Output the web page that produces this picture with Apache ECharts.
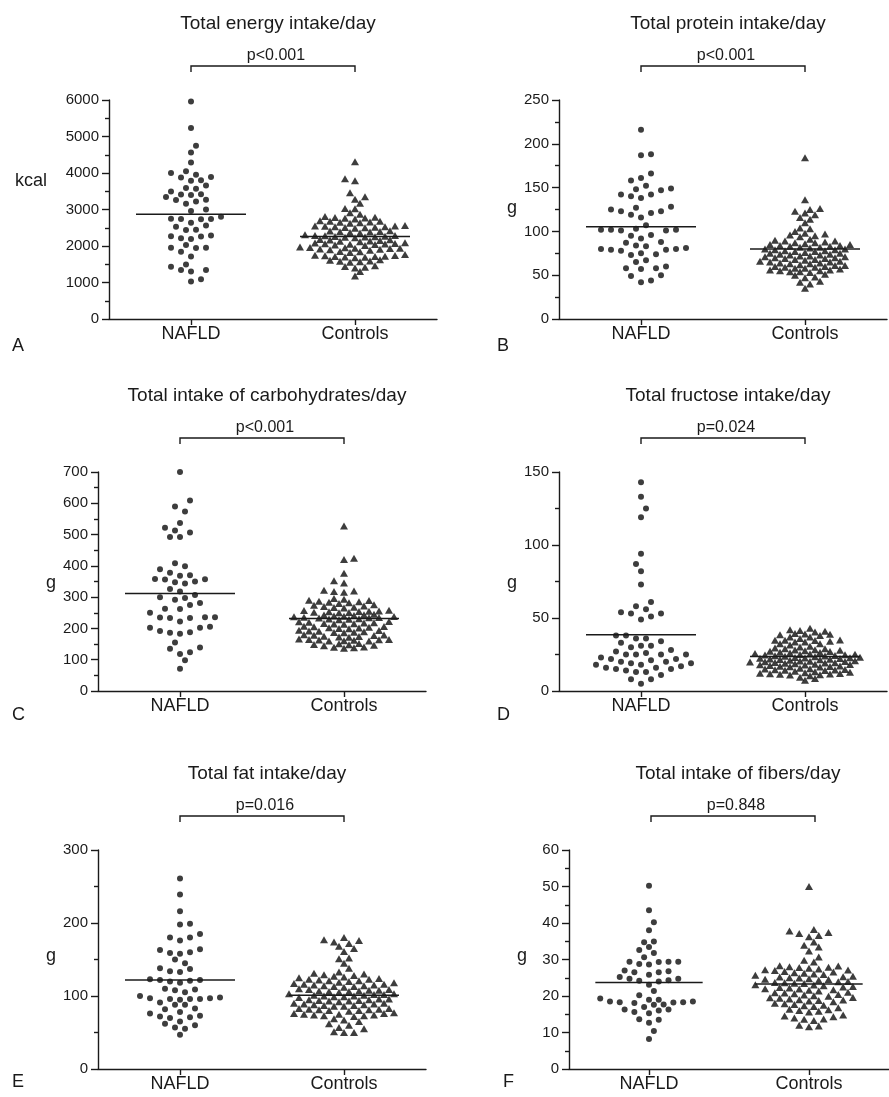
<!DOCTYPE html>
<html>
<head>
<meta charset="utf-8">
<script src="https://cdn.jsdelivr.net/npm/echarts@6/dist/echarts.min.js"></script>
<style>
html, body { margin: 0; background: #fff; }
#main { width: 889px; height: 1097px; }
</style>
</head>
<body>
<div id="main"></div>
<script>
// groups on the x axis
var categories = ['NAFLD', 'Controls'];

var titles = ['Total energy intake/day', 'Total protein intake/day', 'Total intake of carbohydrates/day',
              'Total fructose intake/day', 'Total fat intake/day', 'Total intake of fibers/day'];
var pValues = ['p<0.001', 'p<0.001', 'p<0.001', 'p=0.024', 'p=0.016', 'p=0.848'];
var units = ['kcal', 'g', 'g', 'g', 'g', 'g'];
var letters = ['A', 'B', 'C', 'D', 'E', 'F'];
var yMax = [6000, 250, 700, 150, 300, 60];
var yStep = [1000, 50, 100, 50, 100, 10];

// mean lines [NAFLD, Controls]
var means = [[2872, 2262], [105.2, 79.8], [311.7, 232], [38.6, 23.7], [121.9, 100.9], [23.7, 23.3]];

// A - energy (kcal)
var nafldEnergy = [5960, 5230, 4750, 4560, 4290, 4050, 4000, 3950, 3890, 3880, 3800, 3790, 3660, 3590, 3570,
  3490, 3420, 3410, 3400, 3340, 3270, 3260, 3220, 3160, 3000, 2960, 2800, 2740, 2745, 2735, 2740, 2640, 2560,
  2530, 2440, 2445, 2290, 2270, 2260, 2210, 2190, 2030, 1950, 1955, 1945, 1840, 1710, 1490, 1430, 1340, 1345,
  1300, 1090, 1030];
var ctrlEnergy = [4310, 3840, 3790, 3460, 3350, 3280, 3170, 3030, 3020, 2910, 2870, 2810, 2790, 2780, 2765,
  2760, 2740, 2695, 2680, 2675, 2660, 2650, 2640, 2625, 2565, 2550, 2545, 2540, 2530, 2525, 2515, 2510, 2500,
  2485, 2420, 2410, 2400, 2390, 2385, 2370, 2355, 2305, 2290, 2285, 2280, 2270, 2260, 2255, 2250, 2240, 2225,
  2180, 2170, 2165, 2150, 2140, 2130, 2115, 2090, 2085, 2070, 2060, 2055, 2050, 2040, 2030, 2015, 1975, 1960,
  1950, 1940, 1935, 1930, 1920, 1910, 1900, 1885, 1850, 1840, 1825, 1765, 1750, 1740, 1735, 1720, 1715, 1710,
  1700, 1690, 1675, 1620, 1610, 1590, 1580, 1570, 1555, 1460, 1440, 1420, 1400, 1300, 1180];

// B - protein (g)
var nafldProtein = [216, 188, 187, 166, 161, 158, 152, 149, 148, 147, 142, 142, 140, 138, 128, 127, 125, 123,
  123, 121, 119, 116, 107, 103, 102, 102, 102, 101, 101, 96, 95, 92, 88, 87, 84, 83, 81, 80, 80, 79, 79, 78,
  75, 74, 73, 67, 65, 60, 58, 58, 57, 50, 49, 44, 42];
var ctrlProtein = [184, 136, 126, 125, 123, 121, 119, 116, 114, 110, 104, 103, 100, 98, 97, 96, 95, 94,
  91, 90, 89, 89, 88, 87, 87, 86, 85, 85, 84, 84, 83, 83, 82, 82, 81, 80, 80, 79, 79, 78, 78, 77, 77,
  76, 75, 75, 74, 74, 73, 73, 72, 72, 71, 71, 70, 70, 69, 69, 68, 68, 67, 66, 66, 65, 65, 64, 64, 63, 63, 62,
  61, 61, 60, 60, 59, 59, 58, 58, 57, 56, 56, 55, 55, 54, 54, 53, 51, 50, 48, 47, 43, 42, 40, 35];

// C - carbohydrates (g)
var nafldCarb = [700, 609, 590, 574, 537, 522, 513, 507, 492, 492, 408, 399, 389, 378, 370, 368, 358, 357, 356,
  350, 348, 344, 326, 318, 307, 300, 297, 292, 281, 275, 263, 262, 250, 236, 236, 235, 233, 233, 222, 205, 202,
  202, 192, 188, 186, 183, 155, 139, 135, 124, 118, 98, 71];
var ctrlCarb = [527, 424, 420, 376, 352, 345, 322, 320, 318, 316, 296, 293, 290, 289, 287, 285, 284, 282, 280,
  276, 274, 272, 270, 268, 267, 265, 258, 257, 256, 255, 254, 253, 252, 251, 250, 245, 244, 243, 241, 240, 239,
  238, 237, 236, 235, 234, 233, 231, 230, 229, 228, 222, 221, 220, 218, 217, 216, 215, 214, 213, 207, 206, 205,
  204, 202, 201, 200, 199, 194, 193, 192, 191, 189, 188, 187, 186, 180, 179, 178, 177, 175, 174, 173, 172, 166,
  165, 165, 164, 163, 162, 161, 160, 160, 152, 151, 149, 148, 146, 145, 141, 140, 138, 137];

// D - fructose (g)
var nafldFructose = [143, 133, 125, 119, 94, 87, 82, 73, 61, 58, 56, 54, 53, 53, 51, 49, 38, 38, 36, 36, 34, 33,
  31, 31, 30, 28, 27, 26, 25, 25, 25, 25, 23, 22, 22, 21, 20, 20, 19, 19, 18, 18, 17, 16, 16, 15, 15, 14, 13, 13,
  11, 8, 8, 5];
var ctrlFructose = [43, 42, 41.5, 41, 40.4, 39.3, 39, 38.8, 38.6, 38, 37, 37, 36, 35, 34.7, 34.7, 34.6, 34, 33.6,
  33.5, 32.4, 32.4, 31.5, 30.6, 30.1, 29.5, 29, 29, 28.3, 28, 27.9, 27.5, 27.2, 27, 26.6, 26.3, 26, 25.6, 25.4,
  25.2, 25, 24.8, 24.6, 24.4, 24.2, 24, 23.8, 23.4, 23.2, 23, 22.8, 22.6, 22.4, 22.2, 22, 21.8, 21.6, 21.4, 21,
  20.8, 20.6, 20.4, 20.2, 20, 19.8, 19.6, 19.4, 19.2, 19, 18.6, 18.4, 18.2, 18, 17.8, 17.5, 17.2, 17, 16.8, 16.6,
  16.4, 15.6, 15.3, 15, 14.8, 14.6, 14.4, 14.2, 14, 13.6, 13.2, 12.8, 12.5, 12.2, 12, 11.8, 11.6, 11.4, 11.2, 11,
  10.5, 9.5, 8.5, 7.3];

// E - fat (g)
var nafldFat = [261, 239, 216, 199, 198, 185, 180, 180, 176, 164, 163, 160, 159, 158, 150, 145, 138, 137, 134,
  133, 123, 122, 122, 121, 120, 118, 110, 109, 108, 105, 100, 98, 97, 97, 96, 96, 96, 95, 91, 88, 88, 83, 82, 78,
  76, 73, 72, 71, 70, 65, 62, 60, 57, 55, 47];
var ctrlFat = [180, 177, 176, 174, 172, 168, 165, 161, 152, 151, 145, 138, 133, 131, 130, 129, 128, 127, 126, 125,
  124, 123, 123, 122, 121, 121, 120, 119, 118, 117, 116, 116, 115, 115, 114, 114, 113, 113, 112, 110, 109, 109,
  108, 108, 107, 107, 106, 106, 105, 103, 103, 102, 102, 101, 101, 100, 100, 99, 99, 98, 96, 96, 95, 95, 94, 94,
  93, 93, 92, 90, 90, 89, 89, 88, 88, 87, 87, 86, 86, 83, 83, 82, 82, 81, 81, 80, 80, 79, 77, 76, 76, 75, 75, 74,
  74, 73, 73, 72, 69, 67, 65, 62, 60, 57, 55, 51, 50, 50];

// F - fibers (g)
var nafldFiber = [50.2, 43.5, 40.2, 38, 34.9, 34.7, 33.4, 32.6, 31.8, 30.6, 29.4, 29.4, 29.3, 29.4, 28.8, 28.6,
  27, 26.8, 26.5, 26.5, 25.8, 25.2, 24.7, 24.7, 24.3, 24.2, 24, 23.1, 21.4, 20.2, 19.3, 19, 19, 18.5, 18.5, 18.3,
  18.3, 18.2, 18.1, 17.7, 17.6, 17, 16.3, 16.3, 16, 15.6, 15.3, 13.6, 13.5, 12.7, 10.4, 8.2];
var ctrlFiber = [50, 38.2, 37.8, 37.4, 37.1, 36.6, 36.2, 34.8, 33.9, 33.4, 32.3, 30.7, 29.8, 29.3, 28.3, 28.2, 28,
  27.9, 27.8, 27.6, 27.4, 27.2, 27.1, 27, 26.7, 26.6, 26.4, 26.2, 26, 25.9, 25.7, 25.4, 25.3, 25.2, 25, 24.9,
  24.7, 24.6, 24.5, 24.3, 24, 23.9, 23.7, 23.6, 23.5, 23.4, 23.1, 23, 22.8, 22.6, 22.5, 22.3, 22.2, 22, 21.9,
  21.7, 21.6, 21.4, 21, 20.9, 20.8, 20.6, 20.4, 20.3, 20.1, 19.9, 19.6, 19.5, 19.4, 19.2, 19, 18.9, 18.8, 18.6,
  18.4, 18, 17.9, 17.7, 17.5, 17.3, 17.1, 16.8, 16.4, 16.2, 16, 15.8, 15.6, 14.8, 14.5, 14.3, 14, 13.7, 13.6,
  13.3, 12, 11.8, 11.6];

var groups = [
  [nafldEnergy, ctrlEnergy], [nafldProtein, ctrlProtein], [nafldCarb, ctrlCarb],
  [nafldFructose, ctrlFructose], [nafldFat, ctrlFat], [nafldFiber, ctrlFiber]
];

// layout (pixels)
var W = 328, H = 219;
var panelPos = [[109, 100], [559, 100], [98, 472], [559, 472], [98, 850], [569, 850]];
var unitPos = [[31, 181], [512, 208], [51, 583], [512, 583], [51, 956], [522, 956]];
var letterPos = [[12, 346], [497, 346], [12, 715], [497, 715], [12, 1082], [503, 1082]];
var FONT = '"Liberation Sans", Arial, sans-serif';
var INK = '#1a1a1a';
var STEP = 5, SX = 10, LINE_HALF = 55;
// vertical packing of each swarm (px), per panel: [NAFLD, Controls]
var packY = [[9.8, 6.9], [12.5, 6.4], [12, 6.2], [12.9, 5.6], [9, 7.9], [8.9, 9.2]];

// column scatter: 5px grid, staggered rows, each point as near the centre as it fits
function swarm(values, yPx, center, sy) {
  var idx = values.map(function (v, i) { return i; })
    .sort(function (a, b) { return values[a] - values[b]; });
  var placed = [], out = [];
  idx.forEach(function (i, k) {
    var y = values[i] * yPx, sign = k % 2 ? 1 : -1, x = null;
    for (var s = 0; x === null && s < 60; s++) {
      var cands = s === 0 ? [0] : [sign * s * STEP, -sign * s * STEP];
      for (var c = 0; c < cands.length; c++) {
        var cx = cands[c];
        var ok = true;
        for (var q = 0; q < placed.length; q++) {
          var d = Math.abs(placed[q][0] - cx) / SX + Math.abs(placed[q][1] - y) / sy;
          if (d < 1) { ok = false; break; }
        }
        if (ok) { x = cx; break; }
      }
    }
    if (x === null) x = 0;
    placed.push([x, y]);
    out.push([center + x / (W / 2), values[i]]);
  });
  return out;
}

function lineStyle() {
  return { color: INK, width: 1.4 };
}

var grids = [], xAxes = [], yAxes = [], series = [], elements = [];

for (var p = 0; p < 6; p++) {
  var gLeft = panelPos[p][0], gTop = panelPos[p][1];
  grids.push({ left: gLeft, top: gTop, width: W, height: H });
  xAxes.push({
    type: 'value', gridIndex: p, min: -0.5, max: 1.5,
    splitLine: { show: false },
    axisLine: { show: true, onZero: false, lineStyle: lineStyle() },
    axisTick: { show: true, length: 6, lineStyle: lineStyle(), customValues: [0, 1] },
    axisLabel: {
      margin: 6, fontSize: 18, color: INK, fontFamily: FONT, customValues: [0, 1],
      formatter: function (v) { return categories[Math.round(v)]; }
    }
  });
  yAxes.push({
    type: 'value', gridIndex: p, min: 0, max: yMax[p], interval: yStep[p],
    axisLine: { show: true, onZero: false, lineStyle: lineStyle() },
    axisTick: { show: true, length: 7, lineStyle: lineStyle() },
    minorTick: { show: true, splitNumber: 2, length: 4, lineStyle: lineStyle() },
    splitLine: { show: false },
    axisLabel: {
      margin: 10, fontSize: 15, color: INK, fontFamily: FONT,
      formatter: function (v) { return String(v); }
    }
  });

  var yPx = H / yMax[p];
  series.push({
    type: 'scatter', xAxisIndex: p, yAxisIndex: p, silent: true,
    symbol: 'circle', symbolSize: 6, itemStyle: { color: '#0d0d0d' },
    data: swarm(groups[p][0], yPx, 0, packY[p][0])
  });
  series.push({
    type: 'scatter', xAxisIndex: p, yAxisIndex: p, silent: true,
    symbol: 'triangle', symbolSize: [8, 7], itemStyle: { color: '#0d0d0d' },
    data: swarm(groups[p][1], yPx, 1, packY[p][1])
  });
  for (var g = 0; g < 2; g++) {
    var half = LINE_HALF / (W / 2);
    series.push({
      type: 'line', xAxisIndex: p, yAxisIndex: p, silent: true, z: 5,
      symbol: 'none', lineStyle: { color: INK, width: 1.5 },
      data: [[g - half, means[p][g]], [g + half, means[p][g]]]
    });
  }

  // title, p value and bracket
  var x0 = gLeft + W / 4, x1 = gLeft + 3 * W / 4, cx = (x0 + x1) / 2;
  elements.push({
    type: 'text', x: cx + 5, y: gTop - 76,
    style: { text: titles[p], font: '19px ' + FONT, fill: INK, align: 'center', verticalAlign: 'middle' }
  });
  elements.push({
    type: 'text', x: cx + 3, y: gTop - 44.5,
    style: { text: pValues[p], font: '16px ' + FONT, fill: INK, align: 'center', verticalAlign: 'middle' }
  });
  elements.push({
    type: 'polyline',
    shape: { points: [[x0, gTop - 28], [x0, gTop - 34], [x1, gTop - 34], [x1, gTop - 28]] },
    style: { stroke: INK, lineWidth: 1.4, fill: 'none' }
  });
  elements.push({
    type: 'text', x: unitPos[p][0], y: unitPos[p][1],
    style: { text: units[p], font: '18px ' + FONT, fill: INK, align: 'center', verticalAlign: 'middle' }
  });
  elements.push({
    type: 'text', x: letterPos[p][0], y: letterPos[p][1],
    style: { text: letters[p], font: '18px ' + FONT, fill: INK, align: 'left', verticalAlign: 'middle' }
  });
}

var myChart = echarts.init(document.getElementById('main'));
var option = {
  backgroundColor: '#fff',
  animation: false,
  grid: grids,
  xAxis: xAxes,
  yAxis: yAxes,
  series: series,
  graphic: { elements: elements }
};
myChart.setOption(option);
</script>
</body>
</html>
